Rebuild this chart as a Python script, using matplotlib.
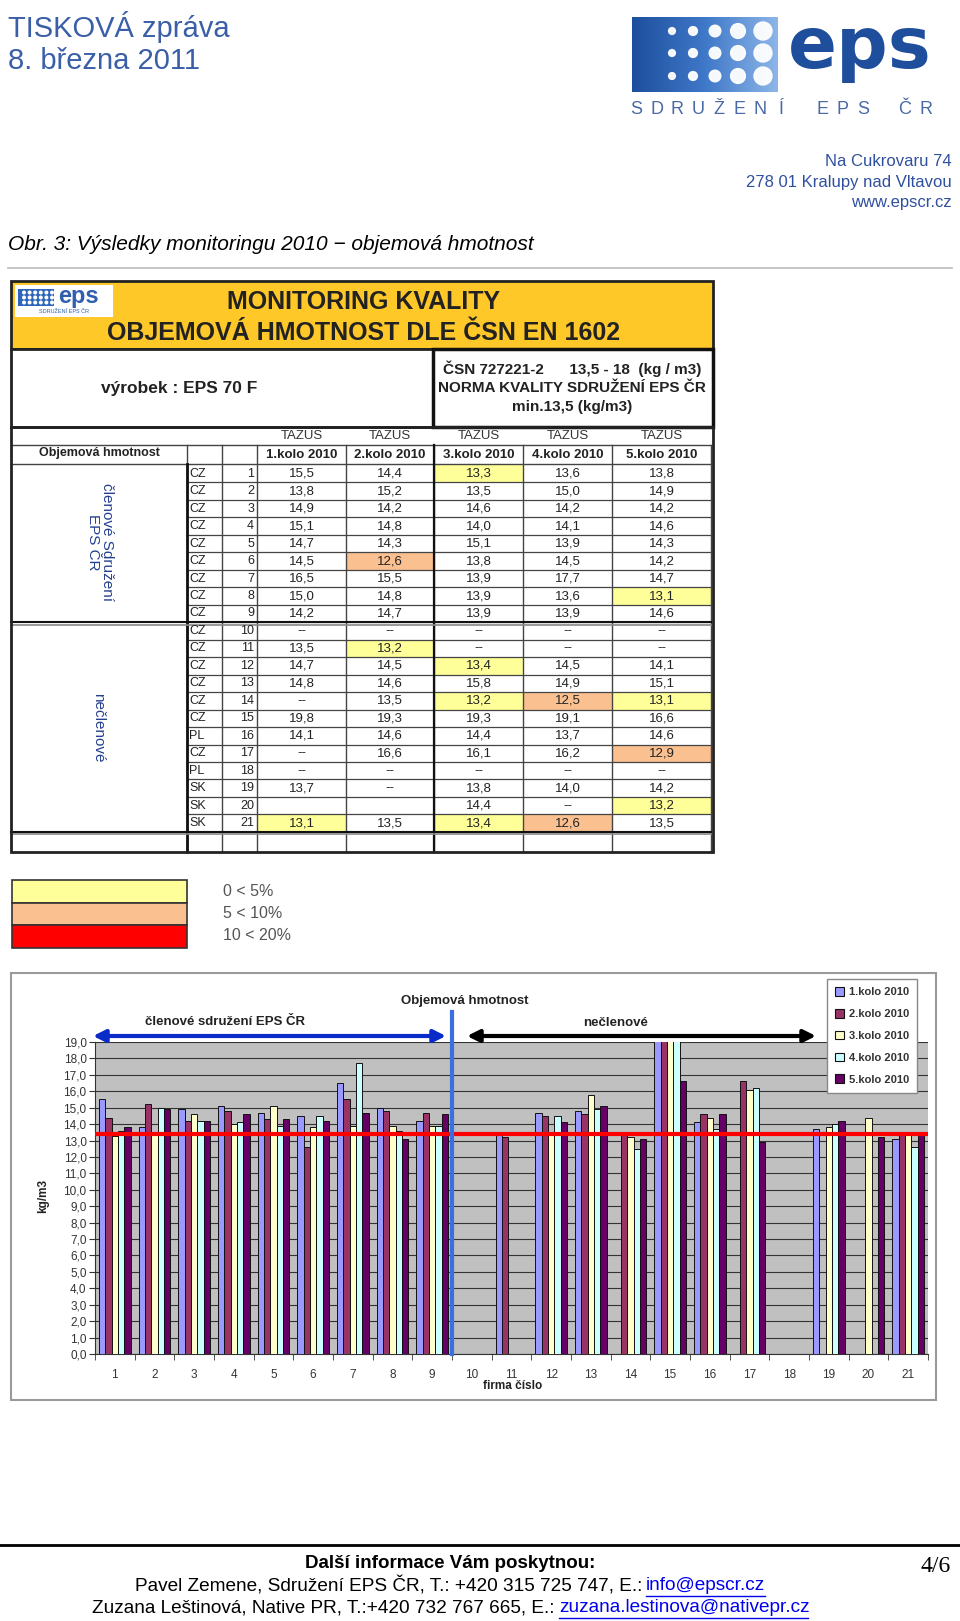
import numpy as np
import matplotlib.pyplot as plt
from matplotlib.patches import Rectangle, Circle, Patch

SANS = ['Liberation Sans', 'DejaVu Sans']
NARROW = ['Liberation Sans Narrow', 'Liberation Sans', 'DejaVu Sans']
plt.rcParams['font.family'] = SANS

# data (table + chart)
nan = np.nan
firms = list(range(1, 22))
countries = ['CZ'] * 15 + ['PL', 'CZ', 'PL', 'SK', 'SK', 'SK']
kolo1 = [15.5, 13.8, 14.9, 15.1, 14.7, 14.5, 16.5, 15.0, 14.2, nan, 13.5,
         14.7, 14.8, nan, 19.8, 14.1, nan, nan, 13.7, nan, 13.1]
kolo2 = [14.4, 15.2, 14.2, 14.8, 14.3, 12.6, 15.5, 14.8, 14.7, nan, 13.2,
         14.5, 14.6, 13.5, 19.3, 14.6, 16.6, nan, nan, nan, 13.5]
kolo3 = [13.3, 13.5, 14.6, 14.0, 15.1, 13.8, 13.9, 13.9, 13.9, nan, nan,
         13.4, 15.8, 13.2, 19.3, 14.4, 16.1, nan, 13.8, 14.4, 13.4]
kolo4 = [13.6, 15.0, 14.2, 14.1, 13.9, 14.5, 17.7, 13.6, 13.9, nan, nan,
         14.5, 14.9, 12.5, 19.1, 13.7, 16.2, nan, 14.0, nan, 12.6]
kolo5 = [13.8, 14.9, 14.2, 14.6, 14.3, 14.2, 14.7, 13.1, 14.6, nan, nan,
         14.1, 15.1, 13.1, 16.6, 14.6, 12.9, nan, 14.2, 13.2, 13.5]
kola = ['1.kolo 2010', '2.kolo 2010', '3.kolo 2010', '4.kolo 2010', '5.kolo 2010']
blank_cells = [(20, 0), (20, 1)]
yellow_cells = [(1, 2), (8, 4), (11, 1), (12, 2), (14, 2), (14, 4), (20, 4), (21, 0), (21, 2)]
orange_cells = [(6, 1), (14, 3), (17, 4), (21, 3)]
norma = 13.4
tolerance = ['0 < 5%', '5 < 10%', '10 < 20%']

series = [kolo1, kolo2, kolo3, kolo4, kolo5]
bar_colors = ['#9999FF', '#993366', '#FFFFCC', '#CCFFFF', '#660066']
YEL, ORA, RED = '#FFFF99', '#FAC090', '#FF0000'

fig = plt.figure(figsize=(9.6, 16.21), dpi=100)
ax = fig.add_axes([0, 0, 1, 1])

# --- hlavicka stranky ---
blue_txt = '#3A5FA8'
ax.text(8, 27, 'TISKOVÁ zpráva', fontsize=21, color=blue_txt, va='center')
ax.text(8, 61, '8. března 2011', fontsize=21, color=blue_txt, va='center')

# logo
grad = np.linspace(0, 1, 200)[None, :]
cmap = plt.matplotlib.colors.LinearSegmentedColormap.from_list('g', ['#1E4F9E', '#3F78C8', '#8DB6E8'])
ax.imshow(grad, extent=(632, 778, 92, 17), cmap=cmap, aspect='auto', zorder=1)
for cx, r in zip([672, 693, 715, 738, 763], [3.4, 4.4, 5.8, 7.4, 9.0]):
    for cy in [31, 53, 76]:
        ax.add_patch(Circle((cx, cy), r, color='white', alpha=0.95, zorder=2))
ax.text(788, 68, 'eps', family=['DejaVu Sans'], fontsize=52, fontweight='bold',
        color='#1F4E9C', va='baseline', ha='left')
for i, ch in enumerate('SDRUŽENÍ EPS ČR'):
    ax.text(636 + i * 20.7, 109, ch, fontsize=13, color='#4A6AA5', ha='center', va='center')

ax.text(952, 161, 'Na Cukrovaru 74', fontsize=12, color='#2F4F9F', ha='right', va='center')
ax.text(952, 182, '278 01 Kralupy nad Vltavou', fontsize=12, color='#2F4F9F', ha='right', va='center')
ax.text(952, 203, 'www.epscr.cz', fontsize=12, color='#2F4F9F', ha='right', va='center')

ax.text(8, 244, 'Obr. 3: Výsledky monitoringu 2010 − objemová hmotnost', fontsize=15,
        style='italic', va='center')
ax.plot([8, 952], [268, 268], color='#BBBBBB', lw=1.2)

# --- tabulka ---
TX0, TX1 = 11, 713
ax.add_patch(Rectangle((TX0, 281), TX1 - TX0, 68, facecolor='#FFC829', edgecolor='#222222', lw=2))
# male logo
ax.add_patch(Rectangle((15, 285), 98, 32, facecolor='white', edgecolor='none'))
ax.add_patch(Rectangle((18, 289), 36, 17, facecolor='#2F66BA', edgecolor='none'))
for cx in np.linspace(24, 52, 6):
    for cy in [292.5, 297.5, 302.5]:
        ax.add_patch(Circle((cx, cy), 1.3, color='white'))
ax.text(58, 297, 'eps', fontsize=17, fontweight='bold', color='#2F5FAE', va='center')
ax.text(64, 311, 'SDRUŽENÍ EPS ČR', fontsize=4, color='#2F5FAE', ha='center', va='center')
ax.text(364, 302, 'MONITORING KVALITY', family=NARROW, fontsize=18, fontweight='bold',
        color='#222222', ha='center', va='center')
ax.text(364, 333, 'OBJEMOVÁ HMOTNOST DLE ČSN EN 1602', family=NARROW, fontsize=18,
        fontweight='bold', color='#222222', ha='center', va='center')

ax.add_patch(Rectangle((TX0, 349), TX1 - TX0, 78, facecolor='white', edgecolor='#222222', lw=2))
ax.add_patch(Rectangle((433, 349), TX1 - 433, 78, facecolor='white', edgecolor='#111111', lw=2.5))
ax.text(179, 389, 'výrobek : EPS 70 F', family=NARROW, fontsize=12.5, fontweight='bold',
        color='#222222', ha='center', va='center')
ax.text(572, 369, 'ČSN 727221-2      13,5 - 18  (kg / m3)', family=NARROW, fontsize=11,
        fontweight='bold', color='#222222', ha='center', va='center')
ax.text(572, 388, 'NORMA KVALITY SDRUŽENÍ EPS ČR', family=NARROW, fontsize=11,
        fontweight='bold', color='#222222', ha='center', va='center')
ax.text(572, 407, 'min.13,5 (kg/m3)', family=NARROW, fontsize=11,
        fontweight='bold', color='#222222', ha='center', va='center')

cols = [11, 187, 222, 257, 346, 434, 523, 612, 711]
ROW0, RH = 465.0, 17.47
HT, HB = 445, 464
BOT = ROW0 + 21 * RH
TBOT = 852

data_cx = [(cols[k + 3] + cols[k + 4]) / 2 for k in range(5)]
for k in range(5):
    ax.text(data_cx[k], 436, 'TAZÚS', family=NARROW, fontsize=9.5, color='#333333',
            ha='center', va='center')
    ax.text(data_cx[k], 454.5, kola[k], family=NARROW, fontsize=9.5, fontweight='bold',
            color='#222222', ha='center', va='center')
ax.text(99, 453, 'Objemová hmotnost', family=NARROW, fontsize=9, fontweight='bold',
        color='#222222', ha='center', va='center')

# zvyrazneni
for cells, col in [(yellow_cells, YEL), (orange_cells, ORA)]:
    for (f, k) in cells:
        ax.add_patch(Rectangle((cols[k + 3], ROW0 + (f - 1) * RH), cols[k + 4] - cols[k + 3], RH,
                               facecolor=col, edgecolor='none', zorder=1))

# mrizka
gc = '#444444'
for yy in [HT, HB]:
    ax.plot([TX0, cols[-1]], [yy, yy], color=gc, lw=1)
for i in range(1, 21):
    yy = ROW0 + i * RH
    ax.plot([cols[1], cols[-1]], [yy, yy], color=gc, lw=0.9, zorder=2)
for xx in cols[1:]:
    ax.plot([xx, xx], [HT, TBOT], color=gc, lw=1.0, zorder=2)
ax.plot([cols[1], cols[1]], [HB, TBOT], color='#111111', lw=2, zorder=3)
ax.plot([cols[5], cols[5]], [HT, TBOT], color='#111111', lw=1.6, zorder=3)
for yy in [ROW0 + 9 * RH, BOT]:
    ax.plot([TX0, cols[-1]], [yy, yy], color='#111111', lw=1.5, zorder=3)
    ax.plot([TX0, cols[-1]], [yy + 2.5, yy + 2.5], color='#888888', lw=1.2, zorder=3)
ax.add_patch(Rectangle((TX0, 427), TX1 - TX0, TBOT - 427, facecolor='none',
                       edgecolor='#222222', lw=2, zorder=4))

for i in range(21):
    cy = ROW0 + (i + 0.5) * RH
    ax.text(cols[1] + 2, cy, countries[i], family=NARROW, fontsize=9, color='#222222',
            va='center', ha='left', zorder=5)
    ax.text(cols[3] - 3, cy, str(firms[i]), family=NARROW, fontsize=9, color='#222222',
            va='center', ha='right', zorder=5)
    for k in range(5):
        v = series[k][i]
        if (firms[i], k) in blank_cells:
            s = ''
        elif np.isnan(v):
            s = '--'
        else:
            s = f'{v:.1f}'.replace('.', ',')
        ax.text(data_cx[k], cy, s, family=NARROW, fontsize=9.5, color='#222222',
                va='center', ha='center', zorder=5)

ax.text(100, 542, 'členové Sdružení\nEPS ČR', rotation=-90, fontsize=11, color='#25408F',
        ha='center', va='center', multialignment='center', linespacing=1.0)
ax.text(98, 728, 'nečlenové', rotation=-90, fontsize=11, color='#25408F',
        ha='center', va='center')

# legenda barev
for j, col in enumerate([YEL, ORA, RED]):
    ax.add_patch(Rectangle((12, 880 + j * 22.7), 175, 22.7, facecolor=col,
                           edgecolor='#333333', lw=1.2))
    ax.text(223, 892 + j * 22, tolerance[j], fontsize=11.5, color='#555555', va='center')

# ramecek grafu
ax.add_patch(Rectangle((11, 973), 925, 427, facecolor='white', edgecolor='#9A9A9A', lw=1.5))

# --- paticka ---
ax.plot([0, 960], [1545, 1545], color='black', lw=2)
ax.text(450, 1563, 'Další informace Vám poskytnou:', fontsize=13.5, fontweight='bold',
        ha='center', va='center')
ax.text(642, 1586, 'Pavel Zemene, Sdružení EPS ČR, T.: +420 315 725 747, E.:', fontsize=13.7,
        ha='right', va='center')
ax.text(646, 1586, 'info@epscr.cz', fontsize=13.7, color='#0000EE', ha='left', va='center')
ax.plot([646, 765], [1596, 1596], color='#0000EE', lw=1)
ax.text(555, 1608, 'Zuzana Leštinová, Native PR, T.:+420 732 767 665, E.:', fontsize=13.7,
        ha='right', va='center')
ax.text(559, 1608, 'zuzana.lestinova@nativepr.cz', fontsize=13.7, color='#0000EE',
        ha='left', va='center')
ax.plot([559, 808], [1618, 1618], color='#0000EE', lw=1)
ax.text(936, 1567, '4/6', family=['Liberation Serif', 'DejaVu Serif'], fontsize=17,
        ha='center', va='center')

ax.set_xlim(0, 960)
ax.set_ylim(1621, 0)
ax.axis('off')

# --- sloupcovy graf ---
cl, cr, ct, cb = 95, 928, 1042, 1354
ax2 = fig.add_axes([cl / 960, 1 - cb / 1621, (cr - cl) / 960, (cb - ct) / 1621])
ax2.set_facecolor('#C0C0C0')
x = np.arange(1, 22)
w = 0.16
for k in range(5):
    ax2.bar(x + (k - 2) * w, series[k], w, color=bar_colors[k], edgecolor='#111111',
            linewidth=0.7, zorder=3)
ax2.set_xlim(0.5, 21.5)
ax2.set_ylim(0, 19)
yt = np.arange(0, 20)
ax2.set_yticks(yt)
ax2.set_yticklabels([f'{v:.1f}'.replace('.', ',') for v in yt], fontsize=8.5, color='#333333')
ax2.set_xticks(x)
ax2.set_xticklabels([str(f) for f in firms], fontsize=8.5, color='#333333')
ax2.set_xticks(np.arange(0.5, 22), minor=True)
ax2.tick_params(axis='x', which='major', length=0, pad=11)
ax2.tick_params(axis='x', which='minor', length=4, color='#333333')
ax2.tick_params(axis='y', length=4, pad=2, color='#333333')
ax2.yaxis.grid(True, color='#333333', lw=0.8)
ax2.set_axisbelow(True)
for s in ['top', 'right']:
    ax2.spines[s].set_visible(False)
for s in ['left', 'bottom']:
    ax2.spines[s].set_color('#333333')
ax2.axhline(norma, color='#FF0000', lw=3, zorder=4)
ax2.plot([9.5, 9.5], [0, 20.8], color='#3B6FE0', lw=3, clip_on=False, zorder=5)

T = ax.transData
ax2.annotate('', xy=(93, 1036), xytext=(446, 1036), xycoords=T, textcoords=T,
             annotation_clip=False,
             arrowprops=dict(arrowstyle='<|-|>', color='#0A2BC8', lw=3, mutation_scale=18,
                             shrinkA=0, shrinkB=0))
ax2.annotate('', xy=(467, 1036), xytext=(816, 1036), xycoords=T, textcoords=T,
             annotation_clip=False,
             arrowprops=dict(arrowstyle='<|-|>', color='black', lw=3, mutation_scale=18,
                             shrinkA=0, shrinkB=0))
ax2.text(225, 1022, 'členové sdružení EPS ČR', transform=T, fontsize=9.5, fontweight='bold',
         color='#222222', ha='center', va='center')
ax2.text(616, 1023, 'nečlenové', transform=T, fontsize=9.5, fontweight='bold',
         color='#222222', ha='center', va='center')
ax2.text(465, 1001, 'Objemová hmotnost', transform=T, fontsize=9.5, fontweight='bold',
         color='#222222', ha='center', va='center')
ax2.text(43, 1196, 'kg/m3', transform=T, rotation=90, fontsize=8.5, fontweight='bold',
         color='#222222', ha='center', va='center')
ax2.text(513, 1386, 'firma číslo', transform=T, fontsize=8.5, fontweight='bold',
         color='#222222', ha='center', va='center')

handles = [Patch(facecolor=c, edgecolor='#111111', lw=0.8) for c in bar_colors]
leg = fig.legend(handles, kola, loc='upper left', bbox_to_anchor=(827 / 960, 1 - 979 / 1621),
                 fontsize=8, frameon=True, fancybox=False, edgecolor='#888888',
                 framealpha=1, labelspacing=1.05, handlelength=0.8, handleheight=0.8,
                 handletextpad=0.4, borderpad=0.75, borderaxespad=0)
for t in leg.get_texts():
    t.set_fontweight('bold')
    t.set_color('#333333')

fig.savefig('out.png', dpi=100)
